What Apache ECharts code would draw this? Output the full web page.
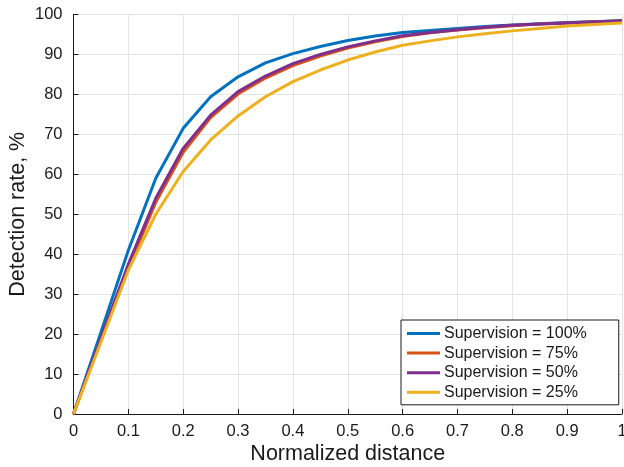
<!DOCTYPE html>
<html><head><meta charset="utf-8">
<script src="https://cdn.jsdelivr.net/npm/echarts@6/dist/echarts.min.js"></script>
<style>html,body{margin:0;padding:0;background:#fff}#c{width:624px;height:467px}</style>
</head><body><div id="c"></div>
<script>
const xs = [0,0.05,0.1,0.15,0.2,0.25,0.3,0.35,0.4,0.45,0.5,0.55,0.6,0.65,0.7,0.75,0.8,0.85,0.9,0.95,1.0];
const s100 = [0,20.5,41,59,71.5,79.4,84.4,87.9,90.2,92.0,93.5,94.6,95.5,96.0,96.5,97.0,97.4,97.7,98.0,98.2,98.5];
const s75  = [0,18.5,36.5,53,65.5,74.2,80.1,84.1,87.2,89.6,91.6,93.2,94.5,95.4,96.1,96.7,97.2,97.6,97.9,98.2,98.4];
const s50  = [0,19,37.5,54,66.5,74.8,80.7,84.6,87.7,90.0,91.9,93.4,94.7,95.5,96.2,96.8,97.3,97.6,97.9,98.2,98.4];
const s25  = [0,18,36,50,60.7,68.6,74.6,79.4,83.2,86.1,88.6,90.6,92.3,93.4,94.4,95.2,95.9,96.5,97.1,97.5,97.9];
const names = ['Supervision = 100%','Supervision = 75%','Supervision = 50%','Supervision = 25%'];
const colors = ['#0072BD','#D95319','#7E2F8E','#EDB120'];
const xTicks = ['0','0.1','0.2','0.3','0.4','0.5','0.6','0.7','0.8','0.9','1'];
const font = 'Liberation Sans, Arial, Helvetica, sans-serif';
const pair = a => xs.map((x,i)=>[x,a[i]]);
const chart = echarts.init(document.getElementById('c'));
chart.setOption({
  animation:false,
  grid:{left:73.5,right:2,top:14.5,bottom:53,outerBoundsMode:'none',containLabel:false},
  xAxis:{type:'value',min:0,max:1,interval:0.1,
    name:'Normalized distance',nameLocation:'middle',nameGap:29,nameMoveOverlap:false,
    nameTextStyle:{fontFamily:font,fontSize:21.5,color:'#1a1a1a'},
    axisLine:{lineStyle:{color:'#1a1a1a',width:1}},
    axisTick:{inside:true,length:5,lineStyle:{color:'#1a1a1a'}},
    axisLabel:{fontFamily:font,fontSize:16.5,color:'#1a1a1a',margin:9,formatter:v=>xTicks[Math.round(v*10)]},
    splitLine:{show:true,lineStyle:{color:'#e3e3e3',width:1}}},
  yAxis:{type:'value',min:0,max:100,interval:10,
    name:'Detection rate, %',nameLocation:'middle',nameGap:44,nameRotate:90,nameMoveOverlap:false,
    nameTextStyle:{fontFamily:font,fontSize:21.5,color:'#1a1a1a'},
    axisLine:{show:true,lineStyle:{color:'#1a1a1a',width:1}},
    axisTick:{show:true,inside:true,length:5,lineStyle:{color:'#1a1a1a'}},
    axisLabel:{fontFamily:font,fontSize:16.5,color:'#1a1a1a',margin:11},
    splitLine:{show:true,lineStyle:{color:'#e3e3e3',width:1}}},
  legend:{orient:'vertical',left:401,top:320,
    backgroundColor:'#fff',borderColor:'#1a1a1a',borderWidth:1,padding:[5,32,4,6],
    icon:'rect',itemWidth:33,itemHeight:3,itemGap:2.6,
    textStyle:{fontFamily:font,fontSize:16,color:'#1a1a1a',lineHeight:17,padding:[0,0,0,-1]},
    data:names},
  series:[s100,s75,s50,s25].map((a,i)=>({
    name:names[i],type:'line',data:pair(a),showSymbol:false,symbol:'none',
    lineStyle:{color:colors[i],width:3},itemStyle:{color:colors[i]},z:2+i}))
});
</script></body></html>
